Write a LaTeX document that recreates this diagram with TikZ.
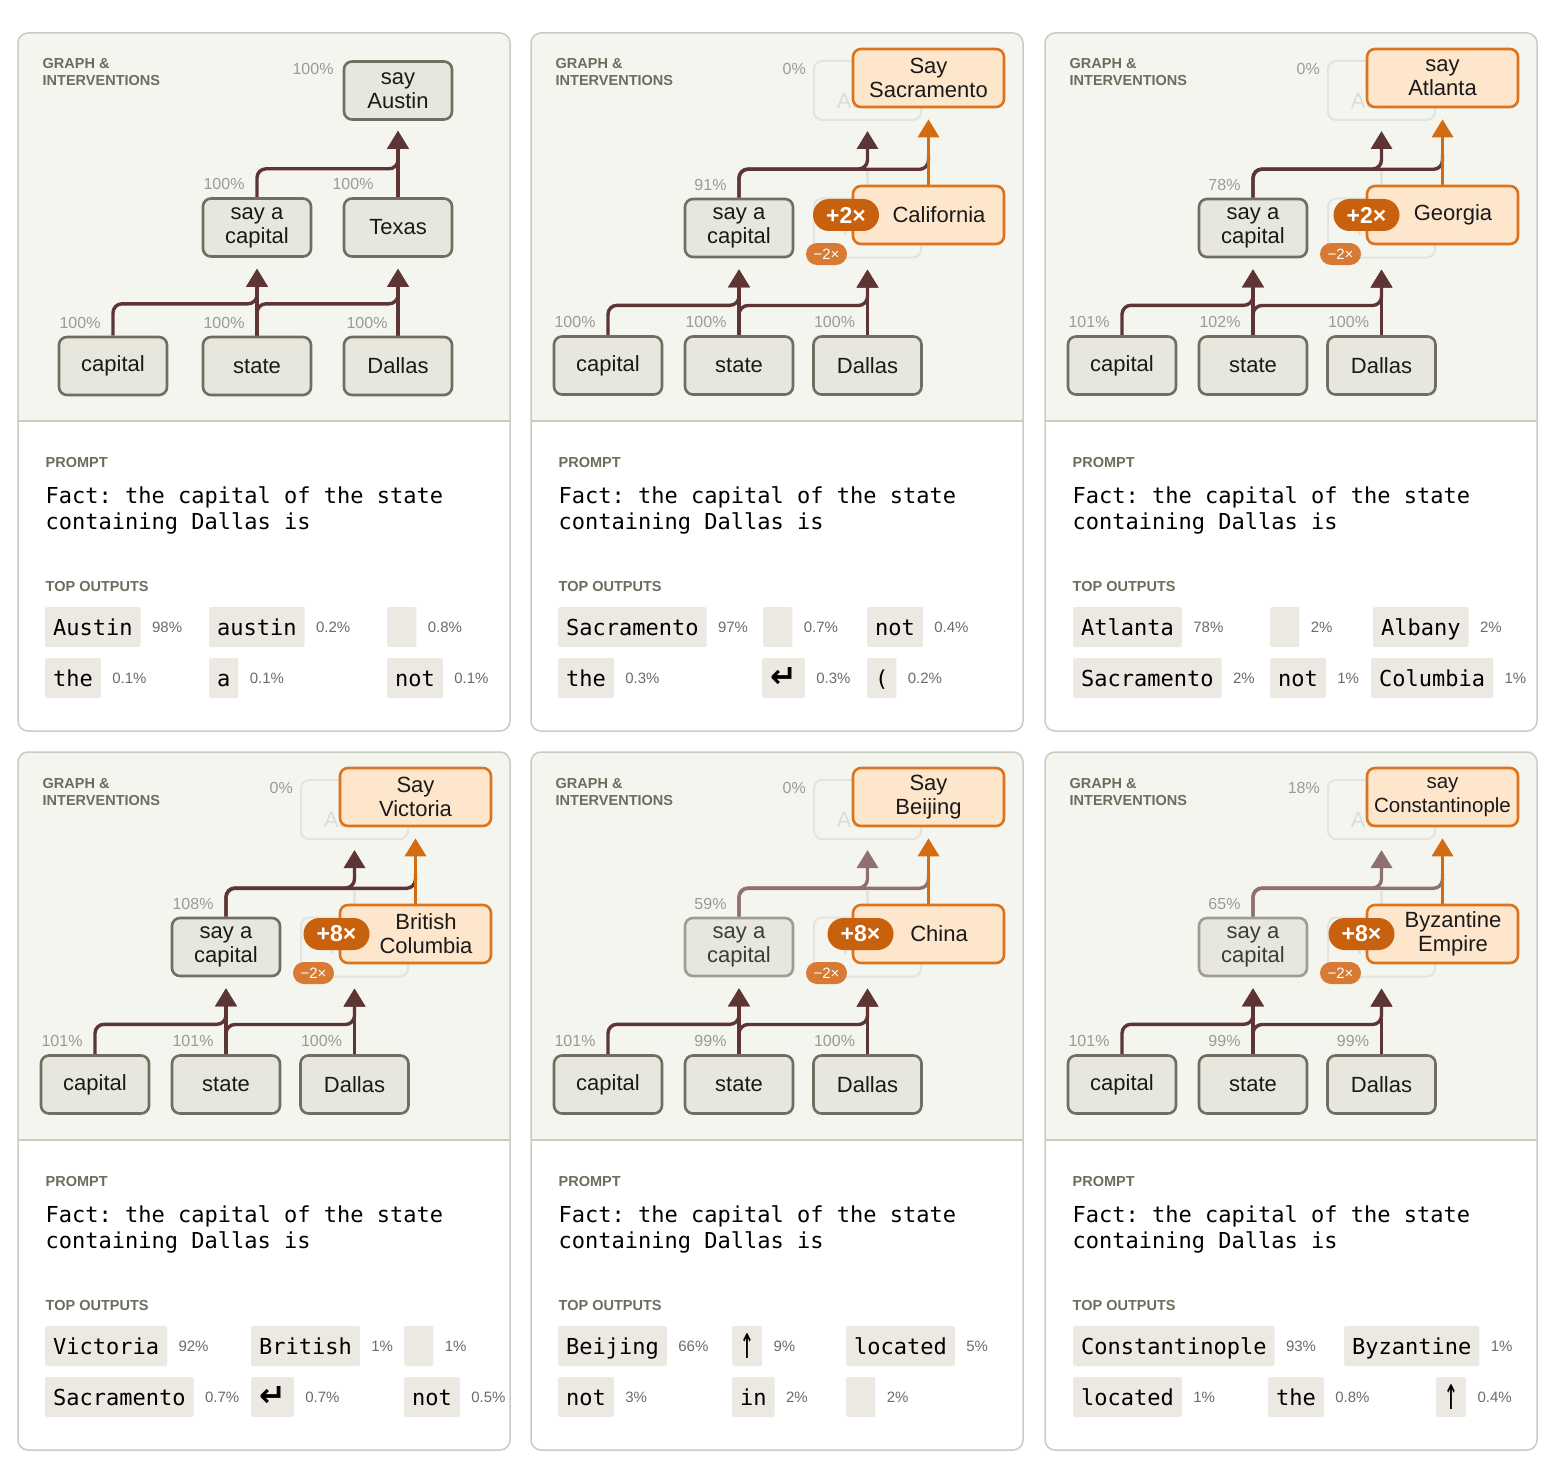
\documentclass[tikz,border=0pt]{standalone}
\usepackage{fontspec}
\usepackage{graphicx}
\usetikzlibrary{arrows.meta,calc}
\setmainfont{Liberation Sans}
\newfontfamily\monof{DejaVu Sans Mono}
\newfontfamily\symf{DejaVu Sans}
\frenchspacing
\definecolor{graphbg}{HTML}{F5F5F0}
\definecolor{framecol}{HTML}{CBCBC3}
\definecolor{boxfill}{HTML}{E8E7DD}
\definecolor{boxdraw}{HTML}{6F6E60}
\definecolor{textcol}{HTML}{1A1A1A}
\definecolor{edgecol}{HTML}{5E3535}
\definecolor{edgefade}{HTML}{8E7070}
\definecolor{orangefill}{HTML}{FDE6CC}
\definecolor{orangedraw}{HTML}{DB7421}
\definecolor{oarrow}{HTML}{D26B12}
\definecolor{pilldark}{HTML}{C8610D}
\definecolor{pilllight}{HTML}{D67A34}
\definecolor{labelgray}{HTML}{6E6D5D}
\definecolor{pctgray}{HTML}{9B9B95}
\definecolor{chipfill}{HTML}{ECE9E2}
\definecolor{chippctcol}{HTML}{6B6B6B}
\definecolor{ghostdraw}{HTML}{E4E4DE}
\definecolor{ghosttext}{HTML}{DDDDD6}
\definecolor{fadeddraw}{HTML}{9E9D90}
\definecolor{fadedtext}{HTML}{3C3C3C}
\pgfdeclarelayer{back}\pgfdeclarelayer{edges}\pgfsetlayers{back,edges,main}
\newcommand{\uparr}{\raisebox{-4pt}{\scalebox{1.05}[2.1]{↑}}}
\newcommand{\retarr}{\raisebox{-1pt}{\scalebox{1.45}{\symf\bfseries ↵}}}
\tikzset{
 gbox/.style={draw=boxdraw, fill=boxfill, line width=2.6pt, rounded corners=8pt, minimum width=108pt, minimum height=58pt, inner sep=1pt, align=center, font=\fontsize{22}{24}\selectfont, text=textcol},
 ghostbox/.style={draw=ghostdraw, line width=2pt, rounded corners=8pt, minimum width=107pt, minimum height=59pt, inner sep=1pt, align=center, font=\fontsize{22}{24}\selectfont, text=ghosttext},
 obox/.style={draw=orangedraw, fill=orangefill, line width=2.6pt, rounded corners=8pt, minimum width=151pt, minimum height=58pt, inner sep=1pt, align=center, font=\fontsize{22}{24}\selectfont, text=textcol},
 otext/.style={inner sep=0pt, align=center, font=\fontsize{22}{24}\selectfont, text=textcol},
 otop/.style={},
 pct/.style={font=\fontsize{16}{16}\selectfont, text=pctgray, inner sep=0pt, text height=11.5pt, text depth=0pt, anchor=east},
 sect/.style={font=\bfseries\fontsize{14.5}{18}\selectfont, text=labelgray, inner sep=0pt, anchor=base west},
 chip/.style={fill=chipfill, rounded corners=2pt, inner xsep=8pt, inner ysep=7.5pt, text height=21pt, text depth=4pt, font=\monof\fontsize{22}{24}\selectfont, anchor=west, text=black},
 chippct/.style={font=\fontsize{15}{15}\selectfont, text=chippctcol, inner sep=0pt, text height=11pt, text depth=0pt, anchor=west},
 prompt/.style={font=\monof\fontsize{22}{26}\selectfont, inner sep=0pt, anchor=base west, text=black},
 conn/.style={draw=edgecol, line width=3.4pt, rounded corners=9pt, -{Triangle[width=21pt,length=18pt]}},
 connplain/.style={draw=edgecol, line width=3.4pt, rounded corners=9pt},
 oconn/.style={draw=oarrow, line width=3.4pt, -{Triangle[width=21pt,length=18pt]}},
 ghostline/.style={draw=ghostdraw, line width=2.5pt},
 bigpill/.style={fill=pilldark, text=white, rounded corners=16pt, minimum width=66pt, minimum height=32pt, inner sep=0pt, font=\bfseries\fontsize{23}{23}\selectfont},
 smallpill/.style={fill=pilllight, text=white, rounded corners=11pt, minimum width=41pt, minimum height=22pt, inner sep=0pt, font=\fontsize{15}{15}\selectfont},
 mbox/.style={}, medge/.style={},
 fadedbox/.style={draw=fadeddraw, text=fadedtext},
}
\newcommand{\chip}[5]{%
 \node[chip] (#1) at (#2,#3) {#4};
 \node[chippct] (#1p) at ([xshift=11pt]#1.east) {#5};}
\newcommand{\Frame}[1]{%
 \begin{pgfonlayer}{back}
  \fill[white,rounded corners=10pt] (0,0) rectangle (492,698);
  \begin{scope}
   \clip[rounded corners=10pt] (0,0) rectangle (492,698);
   \fill[graphbg] (0,0) rectangle (492,388);
  \end{scope}
  \draw[framecol,line width=1.5pt] (0,388) -- (492,388);
  \draw[framecol,line width=1.5pt,rounded corners=10pt] (0,0) rectangle (492,698);
 \end{pgfonlayer}
 \node[sect] (#1g1) at (24.5,36) {GRAPH \&};
 \node[sect] (#1g2) at (24.5,53) {INTERVENTIONS};
 \node[sect] (#1pr) at (27.5,434) {PROMPT};
 \node[prompt] (#1l1) at (27.5,470) {Fact: the capital of the state};
 \node[prompt] (#1l2) at (27.5,496) {containing Dallas is};
 \node[sect] (#1to) at (27.5,558) {TOP OUTPUTS};
}
\newcommand{\IGraph}[9]{%
 \node[ghostbox] (#1A) at (336.5,57.5) {say\\Austin};
 \node[ghostbox] (#1T) at (336.5,195) {Texas};
 \node[gbox] (#1C) at (77,332.5) {capital};
 \node[gbox] (#1S) at (208,332.5) {state};
 \node[gbox] (#1D) at (336.5,332.5) {Dallas};
 \node[gbox,mbox] (#1M) at (208,195) {say a\\capital};
 \node[obox,otop] (#1O) at (397.5,45) {#7};
 \node[obox] (#1P) at (397.5,182) {};
 \node[otext] (#1Pt) at (408,182) {#8};
 \node[bigpill] (#1pl) at (\pillx,182) {#9};
 \node[smallpill] (#1mi) at (295.5,221) {−2×};
 \node[pct] (#1pA) at ([xshift=-7pt,yshift=-9pt]#1A.north west) {#2};
 \node[pct] (#1pM) at ([xshift=43pt,yshift=13pt]#1M.north west) {#3};
 \node[pct] (#1pC) at ([xshift=43pt,yshift=13pt]#1C.north west) {#4};
 \node[pct] (#1pS) at ([xshift=43pt,yshift=13pt]#1S.north west) {#5};
 \node[pct] (#1pD) at ([xshift=43pt,yshift=13pt]#1D.north west) {#6};
 \begin{pgfonlayer}{edges}
  \draw[conn] (#1C.north) |- ($(#1M.south)+(0,47)$) -- ($(#1M.south)+(0,11)$);
  \draw[conn] (#1S.north) -- ($(#1M.south)+(0,11)$);
  \draw[conn] (#1S.north) |- ($(#1T.south)+(0,47)$) -- ($(#1T.south)+(0,11)$);
  \draw[conn] (#1D.north) -- ($(#1T.south)+(0,11)$);
  \draw[ghostline] (#1T.north) -- ($(#1T.north)+(0,-26)$);
  \draw[conn,medge] (#1M.north) |- ($(#1A.south)+(0,48)$) -- ($(#1A.south)+(0,10)$);
  \draw[connplain,medge] (#1M.north) |- ($(#1O.south)+(0,61)$) -- ($(#1O.south)+(0,46)$);
  \draw[oconn] (#1P.north) -- ($(#1O.south)+(0,11)$);
 \end{pgfonlayer}
}
\begin{document}
\begin{tikzpicture}[x=1pt,y=-1pt]
\useasboundingbox (0,0) rectangle (1550,1466);
\begin{pgfonlayer}{back}
\fill[white] (0,0) rectangle (1550,1466);
\end{pgfonlayer}

% ---------- Panel 1 ----------
\begin{scope}[shift={(18,33)}]
 \Frame{a}
 \node[gbox] (aSA) at (380,57.5) {say\\Austin};
 \node[gbox] (aM) at (239,194.5) {say a\\capital};
 \node[gbox] (aTx) at (380,194.5) {Texas};
 \node[gbox] (aC) at (95,333) {capital};
 \node[gbox] (aS) at (239,333) {state};
 \node[gbox] (aD) at (380,333) {Dallas};
 \node[pct] (apSA) at ([xshift=-9pt,yshift=-9pt]aSA.north west) {100\%};
 \node[pct] (apM) at ([xshift=43pt,yshift=13pt]aM.north west) {100\%};
 \node[pct] (apTx) at ([xshift=31pt,yshift=13pt]aTx.north west) {100\%};
 \node[pct] (apC) at ([xshift=43pt,yshift=13pt]aC.north west) {100\%};
 \node[pct] (apS) at ([xshift=43pt,yshift=13pt]aS.north west) {100\%};
 \node[pct] (apD) at ([xshift=45pt,yshift=13pt]aD.north west) {100\%};
 \begin{pgfonlayer}{edges}
  \draw[conn] (aC.north) |- ($(aM.south)+(0,46)$) -- ($(aM.south)+(0,11)$);
  \draw[conn] (aS.north) -- ($(aM.south)+(0,11)$);
  \draw[conn] (aS.north) |- ($(aTx.south)+(0,46)$) -- ($(aTx.south)+(0,11)$);
  \draw[conn] (aD.north) -- ($(aTx.south)+(0,11)$);
  \draw[conn] (aM.north) |- ($(aSA.south)+(0,48)$) -- ($(aSA.south)+(0,10)$);
  \draw[conn] (aTx.north) -- ($(aSA.south)+(0,10)$);
 \end{pgfonlayer}
 \chip{ac1}{27}{594}{Austin}{98\%}
 \chip{ac2}{191}{594}{austin}{0.2\%}
 \chip{ac3}{369}{594}{\phantom{x}}{0.8\%}
 \chip{ac4}{27}{645}{the}{0.1\%}
 \chip{ac5}{191}{645}{a}{0.1\%}
 \chip{ac6}{369}{645}{not}{0.1\%}
\end{scope}

% ---------- Panel 2 ----------
\begin{scope}[shift={(531,33)}]
 \Frame{b}
 \def\pillx{315}
 \IGraph{b}{0\%}{91\%}{100\%}{100\%}{100\%}{Say\\Sacramento}{California}{+2×}
 \chip{bc1}{27}{594}{Sacramento}{97\%}
 \chip{bc2}{232}{594}{\phantom{x}}{0.7\%}
 \chip{bc3}{336}{594}{not}{0.4\%}
 \chip{bc4}{27}{645}{the}{0.3\%}
 \chip{bc5}{231}{645}{\retarr}{0.3\%}
 \chip{bc6}{336}{645}{(}{0.2\%}
\end{scope}

% ---------- Panel 3 ----------
\begin{scope}[shift={(1045,33)}]
 \Frame{c}
 \def\pillx{321.5}
 \IGraph{c}{0\%}{78\%}{101\%}{102\%}{100\%}{say\\Atlanta}{Georgia}{+2×}
 \chip{cc1}{28}{594}{Atlanta}{78\%}
 \chip{cc2}{225}{594}{\phantom{x}}{2\%}
 \chip{cc3}{328}{594}{Albany}{2\%}
 \chip{cc4}{28}{645}{Sacramento}{2\%}
 \chip{cc5}{225}{645}{not}{1\%}
 \chip{cc6}{326}{645}{Columbia}{1\%}
\end{scope}

% ---------- Panel 4 ----------
\begin{scope}[shift={(18,752)}]
 \Frame{d}
 \def\pillx{318.5}
 \IGraph{d}{0\%}{108\%}{101\%}{101\%}{100\%}{Say\\Victoria}{British\\Columbia}{+8×}
 \chip{dc1}{27}{594}{Victoria}{92\%}
 \chip{dc2}{233}{594}{British}{1\%}
 \chip{dc3}{386}{594}{\phantom{x}}{1\%}
 \chip{dc4}{27}{645}{Sacramento}{0.7\%}
 \chip{dc5}{233}{645}{\retarr}{0.7\%}
 \chip{dc6}{386}{645}{not}{0.5\%}
\end{scope}

% ---------- Panel 5 ----------
\begin{scope}[shift={(531,752)}]
 \Frame{e}
 \def\pillx{329.5}
 \tikzset{mbox/.style={fadedbox}, medge/.style={draw=edgefade}}
 \IGraph{e}{0\%}{59\%}{101\%}{99\%}{100\%}{Say\\Beijing}{China}{+8×}
 \chip{ec1}{27}{594}{Beijing}{66\%}
 \chip{ec2}{201}{594}{\uparr}{9\%}
 \chip{ec3}{315}{594}{located}{5\%}
 \chip{ec4}{27}{645}{not}{3\%}
 \chip{ec5}{201}{645}{in}{2\%}
 \chip{ec6}{315}{645}{\phantom{x}}{2\%}
\end{scope}

% ---------- Panel 6 ----------
\begin{scope}[shift={(1045,752)}]
 \Frame{f}
 \def\pillx{316.5}
 \tikzset{mbox/.style={fadedbox}, medge/.style={draw=edgefade}, otop/.style={font=\fontsize{20.5}{24}\selectfont}}
 \IGraph{f}{18\%}{65\%}{101\%}{99\%}{99\%}{say\\Constantinople}{Byzantine\\Empire}{+8×}
 \chip{fc1}{28}{594}{Constantinople}{93\%}
 \chip{fc2}{299}{594}{Byzantine}{1\%}
 \chip{fc4}{28}{645}{located}{1\%}
 \chip{fc5}{223}{645}{the}{0.8\%}
 \chip{fc6}{391}{645}{\uparr}{0.4\%}
\end{scope}
\end{tikzpicture}
\end{document}
